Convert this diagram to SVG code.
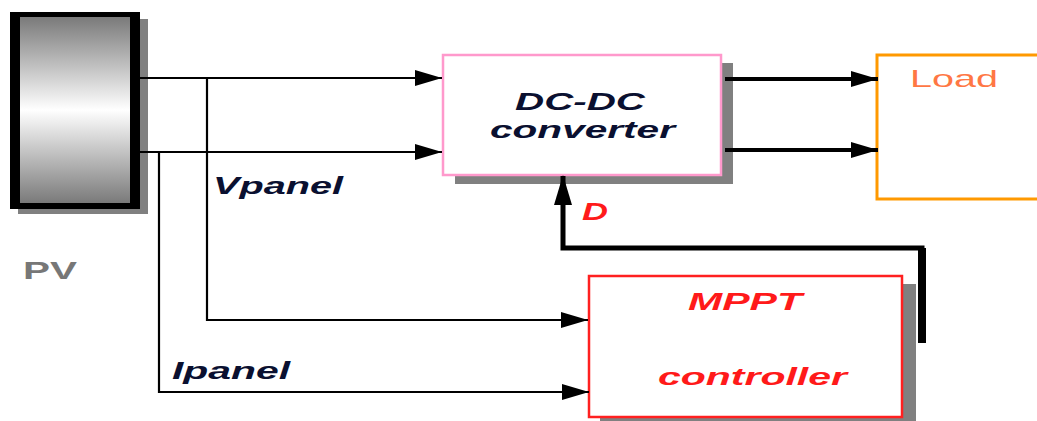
<svg xmlns="http://www.w3.org/2000/svg" width="1037" height="421" viewBox="0 0 1037 421">
<style>
.lbl{font-family:"Liberation Sans",Arial,sans-serif;font-size:24px;font-weight:bold;font-style:italic}
.wire{fill:none;stroke:#000;stroke-width:2.2}
.wire2{fill:none;stroke:#000;stroke-width:4}
.thick{fill:none;stroke:#000;stroke-width:5}
.shadow{fill:#808080}
</style>
<defs>
<linearGradient id="pvg" x1="0" y1="0" x2="0" y2="1">
<stop offset="0" stop-color="#7a7a7a"/>
<stop offset="0.5" stop-color="#ffffff"/>
<stop offset="1" stop-color="#7a7a7a"/>
</linearGradient>
<marker id="ah" viewBox="0 0 27 16" refX="27" refY="8" markerWidth="27" markerHeight="16" markerUnits="userSpaceOnUse" orient="auto">
<path d="M0,0 L27,8 L0,16 Z" fill="#000"/>
</marker>
<marker id="ahb" viewBox="0 0 30 18" refX="29" refY="9" markerWidth="30" markerHeight="18" markerUnits="userSpaceOnUse" orient="auto">
<path d="M0,0 L30,9 L0,18 Z" fill="#000"/>
</marker>
</defs>

<g id="pv">
<rect class="shadow" x="18" y="19" width="130" height="195"/>
<rect x="10" y="12" width="130" height="197" fill="#000"/>
<rect x="20" y="17" width="110" height="186" fill="url(#pvg)"/>
<text x="23" y="279" font-family="Liberation Sans,Arial,sans-serif" font-size="24" font-weight="bold" fill="#777777" textLength="54" lengthAdjust="spacingAndGlyphs">PV</text>
</g>

<g id="dcdc">
<rect class="shadow" x="455" y="63" width="278" height="121"/>
<rect x="443" y="55" width="278" height="120" fill="#fff" stroke="#ff99cc" stroke-width="2.5"/>
<text class="lbl" x="515" y="110" fill="#0a1030" textLength="130" lengthAdjust="spacingAndGlyphs">DC-DC</text>
<text class="lbl" x="490" y="138" fill="#0a1030" textLength="185" lengthAdjust="spacingAndGlyphs">converter</text>
</g>

<g id="load">
<rect x="877" y="55" width="175" height="144" fill="#fff" stroke="#ff9900" stroke-width="3"/>
<text x="910" y="87" font-family="Liberation Sans,Arial,sans-serif" font-size="24" fill="#ff7744" textLength="88" lengthAdjust="spacingAndGlyphs">Load</text>
</g>

<g id="mppt">
<rect class="shadow" x="600" y="284" width="316" height="140"/>
<rect x="589" y="276" width="313" height="141" fill="#fff" stroke="#ff2020" stroke-width="2.5"/>
<text class="lbl" x="688" y="310" fill="#ff1a1a" textLength="114" lengthAdjust="spacingAndGlyphs">MPPT</text>
<text class="lbl" x="658" y="385" fill="#ff1a1a" textLength="189" lengthAdjust="spacingAndGlyphs">controller</text>
</g>

<g id="connectors">
<path class="wire" d="M140,78 H442" marker-end="url(#ah)"/>
<path class="wire" d="M140,152 H442" marker-end="url(#ah)"/>
<path class="wire" d="M207,78 V320 H588" marker-end="url(#ah)"/>
<path class="wire" d="M159,152 V392 H589" marker-end="url(#ah)"/>
<path class="wire2" d="M725,79 H878" marker-end="url(#ah)"/>
<path class="wire2" d="M725,150 H878" marker-end="url(#ah)"/>
<path class="thick" d="M922,343 V248 H563 V176" marker-end="url(#ahb)"/>
<rect x="918" y="248" width="8" height="95" fill="#000"/>
</g>

<g id="labels">
<text class="lbl" x="213" y="194" fill="#0a1030" textLength="130" lengthAdjust="spacingAndGlyphs">Vpanel</text>
<text class="lbl" x="172" y="379" fill="#0a1030" textLength="118" lengthAdjust="spacingAndGlyphs">Ipanel</text>
<text class="lbl" x="582" y="220" fill="#ff1a1a" textLength="26" lengthAdjust="spacingAndGlyphs">D</text>
</g>
</svg>
